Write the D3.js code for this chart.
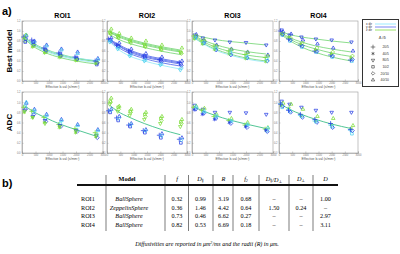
<!DOCTYPE html>
<html>
<head>
<meta charset="utf-8">
<script src="https://cdn.jsdelivr.net/npm/d3@7"></script>
<style>
  body { margin: 0; background: #fff; }
  svg { display: block; font-family: "Liberation Sans", Arial, sans-serif; }
  .serif { font-family: "Liberation Serif", "DejaVu Serif", serif; }
</style>
</head>
<body>
<div class="chart"></div>
<script>
var svgWidth = 400;
var svgHeight = 254;

// ---- data ----
var rois = ["ROI1", "ROI2", "ROI3", "ROI4"];
var rowNames = ["Best model", "ADC"];
var bVals = [100, 400, 850, 1400, 2000, 2750];
var protoShift = [-40, -20, 0, 20, 40, 60];
var xTicks = [0, 500, 1000, 1500, 2000, 2500, 3000];
var yTicks = [0, 0.2, 0.4, 0.6, 0.8, 1, 1.2];
var dirNames = ["x dir", "y dir", "z dir"];
var protocols = ["20/5", "40/5", "80/5", "10/2", "20/10", "40/10"];

// fitted curves: [direction, values at bVals]
var roi1BestFits = [
  [2, [0.87, 0.76, 0.64, 0.54, 0.46, 0.40]],
  [2, [0.86, 0.74, 0.62, 0.52, 0.45, 0.39]],
  [0, [0.85, 0.72, 0.60, 0.50, 0.43, 0.37]],
  [2, [0.84, 0.70, 0.57, 0.47, 0.40, 0.34]],
  [0, [0.86, 0.75, 0.63, 0.53, 0.46, 0.41]]
];
var roi2BestFits = [
  [2, [1.00, 0.93, 0.84, 0.76, 0.69, 0.62]],
  [2, [0.98, 0.91, 0.82, 0.74, 0.67, 0.60]],
  [2, [0.97, 0.89, 0.80, 0.72, 0.65, 0.58]],
  [2, [0.93, 0.84, 0.75, 0.67, 0.60, 0.53]],
  [1, [0.84, 0.74, 0.62, 0.52, 0.45, 0.38]],
  [1, [0.83, 0.72, 0.60, 0.50, 0.43, 0.36]],
  [1, [0.82, 0.71, 0.58, 0.48, 0.41, 0.34]],
  [1, [0.80, 0.68, 0.55, 0.45, 0.37, 0.30]],
  [0, [0.78, 0.64, 0.50, 0.40, 0.32, 0.24]]
];
var roi3BestFits = [
  [2, [0.92, 0.88, 0.83, 0.79, 0.76, 0.72]],
  [2, [0.90, 0.82, 0.73, 0.65, 0.59, 0.54]],
  [2, [0.88, 0.79, 0.68, 0.59, 0.52, 0.47]],
  [2, [0.86, 0.76, 0.64, 0.54, 0.46, 0.40]],
  [0, [0.85, 0.75, 0.62, 0.52, 0.44, 0.38]]
];
var roi4BestFits = [
  [2, [0.98, 0.93, 0.88, 0.84, 0.80, 0.76]],
  [2, [0.96, 0.87, 0.78, 0.70, 0.64, 0.58]],
  [2, [0.94, 0.84, 0.73, 0.64, 0.56, 0.49]],
  [2, [0.92, 0.81, 0.68, 0.57, 0.48, 0.40]]
];
var adcFits = [
  [0.93, 0.82, 0.70, 0.57, 0.46, 0.33],
  [0.94, 0.82, 0.70, 0.58, 0.47, 0.36],
  [0.90, 0.83, 0.74, 0.65, 0.57, 0.48],
  [0.95, 0.86, 0.76, 0.66, 0.57, 0.48]
];

// measured points: [direction, protocol, values at bVals]
var roi1BestPts = [
  [1, 5, [0.90, 0.80, 0.72, 0.64, 0.58, 0.45]],
  [0, 5, [0.92, 0.78, 0.70, 0.62, 0.55, 0.43]],
  [0, 2, [0.85, 0.74, 0.62, 0.52, 0.45, 0.38]],
  [2, 3, [0.80, 0.72, 0.60, 0.50, 0.44, 0.36]],
  [1, 3, [0.78, 0.78, 0.63, 0.55, 0.47, 0.33]],
  [2, 4, [0.92, 0.70, 0.58, 0.49, 0.42, 0.37]],
  [1, 4, [0.84, 0.73, 0.61, 0.51, 0.44, 0.36]],
  [1, 0, [0.88, 0.82, 0.66, 0.56, 0.48, 0.40]],
  [2, 1, [0.86, 0.68, 0.56, 0.47, 0.41, 0.35]]
];
var roi2BestPts = [
  [2, 5, [1.04, 0.95, 0.86, 0.80, 0.72, 0.66]],
  [2, 2, [0.98, 0.90, 0.80, 0.73, 0.66, 0.58]],
  [2, 4, [0.94, 0.86, 0.76, 0.68, 0.62, 0.55]],
  [2, 3, [0.96, 0.88, 0.79, 0.70, 0.64, 0.57]],
  [1, 5, [0.86, 0.76, 0.64, 0.55, 0.48, 0.40]],
  [1, 3, [0.82, 0.70, 0.58, 0.49, 0.42, 0.34]],
  [1, 0, [0.84, 0.72, 0.60, 0.50, 0.43, 0.37]],
  [1, 4, [0.80, 0.69, 0.56, 0.46, 0.39, 0.31]],
  [0, 4, [0.80, 0.66, 0.52, 0.42, 0.34, 0.26]],
  [0, 2, [0.78, 0.64, 0.50, 0.40, 0.32, 0.22]]
];
var roi3BestPts = [
  [1, 2, [0.92, 0.86, 0.82, 0.78, 0.77, 0.72]],
  [1, 5, [0.93, 0.80, 0.72, 0.64, 0.58, 0.52]],
  [2, 5, [0.90, 0.82, 0.70, 0.63, 0.57, 0.50]],
  [0, 3, [0.86, 0.75, 0.66, 0.58, 0.50, 0.45]],
  [1, 4, [0.88, 0.76, 0.62, 0.52, 0.46, 0.40]],
  [2, 0, [0.90, 0.80, 0.70, 0.60, 0.53, 0.47]],
  [2, 1, [0.84, 0.74, 0.63, 0.54, 0.45, 0.39]],
  [0, 4, [0.87, 0.77, 0.65, 0.55, 0.47, 0.41]]
];
var roi4BestPts = [
  [1, 2, [1.02, 0.92, 0.88, 0.84, 0.82, 0.78]],
  [1, 5, [0.98, 0.94, 0.82, 0.74, 0.66, 0.60]],
  [2, 4, [0.95, 0.86, 0.76, 0.66, 0.58, 0.50]],
  [0, 3, [0.92, 0.80, 0.68, 0.58, 0.48, 0.40]],
  [1, 0, [1.00, 0.84, 0.72, 0.60, 0.52, 0.42]],
  [2, 1, [0.94, 0.88, 0.74, 0.62, 0.54, 0.46]],
  [1, 4, [0.93, 0.82, 0.70, 0.59, 0.50, 0.43]]
];
var roi1AdcPts = [
  [1, 5, [0.98, 0.86, 0.76, 0.66, 0.56, 0.46]],
  [0, 5, [1.00, 0.84, 0.74, 0.64, 0.54, 0.44]],
  [0, 3, [0.92, 0.80, 0.68, 0.58, 0.46, 0.36]],
  [1, 4, [0.86, 0.76, 0.62, 0.52, 0.42, 0.30]],
  [2, 0, [0.90, 0.82, 0.70, 0.56, 0.48, 0.40]],
  [1, 2, [0.84, 0.72, 0.64, 0.54, 0.44, 0.34]],
  [2, 2, [0.82, 0.70, 0.58, 0.52, 0.43, 0.35]],
  [2, 1, [0.80, 0.70, 0.60, 0.50, 0.40, 0.32]]
];
var roi2AdcPts = [
  [2, 5, [1.08, 0.92, 0.86, 0.80, 0.72, 0.66]],
  [2, 4, [1.00, 0.86, 0.80, 0.72, 0.64, 0.58]],
  [2, 2, [0.96, 0.82, 0.74, 0.66, 0.58, 0.52]],
  [2, 3, [1.02, 0.90, 0.82, 0.76, 0.68, 0.61]],
  [1, 5, [0.86, 0.72, 0.58, 0.46, 0.38, 0.30]],
  [1, 3, [0.80, 0.64, 0.52, 0.40, 0.30, 0.20]],
  [1, 0, [0.83, 0.69, 0.55, 0.44, 0.35, 0.27]],
  [0, 4, [0.84, 0.68, 0.56, 0.44, 0.34, 0.26]]
];
var roi3AdcPts = [
  [1, 2, [0.94, 0.86, 0.80, 0.80, 0.79, 0.76]],
  [2, 5, [0.92, 0.88, 0.76, 0.68, 0.60, 0.50]],
  [0, 3, [0.88, 0.80, 0.70, 0.62, 0.54, 0.44]],
  [1, 4, [0.86, 0.78, 0.68, 0.58, 0.50, 0.42]],
  [2, 0, [0.90, 0.84, 0.72, 0.64, 0.55, 0.47]],
  [0, 5, [0.91, 0.82, 0.73, 0.63, 0.56, 0.49]],
  [1, 1, [0.85, 0.76, 0.66, 0.60, 0.52, 0.45]]
];
var roi4AdcPts = [
  [1, 2, [1.02, 0.96, 0.90, 0.84, 0.80, 0.80]],
  [2, 5, [0.98, 0.96, 0.86, 0.72, 0.68, 0.54]],
  [0, 3, [0.90, 0.82, 0.72, 0.62, 0.52, 0.38]],
  [1, 4, [0.92, 0.80, 0.70, 0.60, 0.50, 0.44]],
  [2, 1, [0.94, 0.88, 0.74, 0.64, 0.56, 0.48]],
  [0, 0, [0.97, 0.85, 0.74, 0.63, 0.55, 0.45]],
  [1, 0, [0.96, 0.84, 0.76, 0.66, 0.58, 0.46]]
];

// table
var tableHeader = ["Model", "f", "D∥", "R", "f2", "D∥/D⊥", "D⊥", "D"];
var tableRois = ["ROI1", "ROI2", "ROI3", "ROI4"];
var tableModels = ["BallSphere", "ZeppelinSphere", "BallSphere", "BallSphere"];
var tableF = ["0.32", "0.36", "0.73", "0.82"];
var tableDpar = ["0.99", "1.46", "0.46", "0.53"];
var tableR = ["3.19", "4.42", "6.62", "6.69"];
var tableF2 = ["0.68", "0.64", "0.27", "0.18"];
var tableRatio = ["–", "1.50", "–", "–"];
var tableDperp = ["–", "0.24", "–", "–"];
var tableD = ["1.00", "–", "2.97", "3.11"];

// ---- styles ----
var dirColor = ["#4fd2f0", "#2a40e4", "#7cdc38"];
var fitColor = ["#8fe6f5", "#4a5fe8", "#6ed46e"];
var legendLine = ["#8fe8ff", "#6a7cf2", "#8ee05a"];
var adcLineColor = "#3fbf8a";
var symbolTypes = [d3.symbolPlus, d3.symbolAsterisk, d3.symbolTriangle2, d3.symbolSquare2, d3.symbolDiamond2, d3.symbolTriangle2];
var symbolRotate = [0, 0, 180, 0, 0, 0];

var colX = [[22, 103], [107, 187], [192, 273], [279, 358]];
var rowY = [[21, 81], [92, 153]];

var svg = d3.select(".chart")
  .append("svg")
  .attr("width", svgWidth)
  .attr("height", svgHeight);

svg.append("text").attr("x", 2).attr("y", 15)
  .attr("font-size", 11).attr("font-weight", "bold").text("a)");
svg.append("text").attr("x", 2).attr("y", 187)
  .attr("font-size", 11).attr("font-weight", "bold").text("b)");

rois.forEach(function(r, i) {
  svg.append("text")
    .attr("x", (colX[i][0] + colX[i][1]) / 2).attr("y", 18)
    .attr("text-anchor", "middle").attr("font-size", 7).attr("font-weight", "bold")
    .text(r);
});

rowNames.forEach(function(r, i) {
  var cy = (rowY[i][0] + rowY[i][1]) / 2;
  svg.append("text")
    .attr("transform", "translate(12," + cy + ") rotate(-90)")
    .attr("text-anchor", "middle").attr("font-size", 8).attr("font-weight", "bold")
    .text(r);
});

var panels = [
  { c: 0, r: 0, fits: roi1BestFits, pts: roi1BestPts },
  { c: 1, r: 0, fits: roi2BestFits, pts: roi2BestPts },
  { c: 2, r: 0, fits: roi3BestFits, pts: roi3BestPts },
  { c: 3, r: 0, fits: roi4BestFits, pts: roi4BestPts },
  { c: 0, r: 1, fits: [[2, adcFits[0]]], pts: roi1AdcPts, adc: true },
  { c: 1, r: 1, fits: [[2, adcFits[1]]], pts: roi2AdcPts, adc: true },
  { c: 2, r: 1, fits: [[2, adcFits[2]]], pts: roi3AdcPts, adc: true },
  { c: 3, r: 1, fits: [[2, adcFits[3]]], pts: roi4AdcPts, adc: true }
];

panels.forEach(function(p) {
  var x = d3.scaleLinear().domain([0, 3000]).range(colX[p.c]);
  var y = d3.scaleLinear().domain([0, 1.2]).range([rowY[p.r][1], rowY[p.r][0]]);
  var g = svg.append("g");

  g.append("rect")
    .attr("x", colX[p.c][0]).attr("y", rowY[p.r][0])
    .attr("width", colX[p.c][1] - colX[p.c][0]).attr("height", rowY[p.r][1] - rowY[p.r][0])
    .attr("fill", "#fff").attr("stroke", "#9a9a9a").attr("stroke-width", 0.6);

  var xa = g.append("g").attr("transform", "translate(0," + rowY[p.r][1] + ")")
    .call(d3.axisBottom(x).tickValues(xTicks).tickSize(-1.5).tickPadding(1.5).tickFormat(d3.format("d")));
  var ya = g.append("g").attr("transform", "translate(" + colX[p.c][0] + ",0)")
    .call(d3.axisLeft(y).tickValues(yTicks).tickSize(-1.5).tickPadding(1.5));
  [xa, ya].forEach(function(a) {
    a.select(".domain").attr("stroke", "#9a9a9a").attr("stroke-width", 0.6);
    a.selectAll(".tick line").attr("stroke", "#9a9a9a").attr("stroke-width", 0.5);
    a.selectAll(".tick text").attr("font-size", 2.6).attr("fill", "#777");
  });

  g.append("text")
    .attr("x", (colX[p.c][0] + colX[p.c][1]) / 2).attr("y", rowY[p.r][1] + 7)
    .attr("text-anchor", "middle").attr("font-size", 3.4).attr("fill", "#555")
    .text("Effective b-val (s/mm²)");

  var line = d3.line()
    .x(function(d, i) { return x(bVals[i]); })
    .y(function(d) { return y(d); })
    .curve(d3.curveMonotoneX);

  p.fits.forEach(function(f) {
    g.append("path").datum(f[1])
      .attr("d", line).attr("fill", "none")
      .attr("stroke", p.adc ? adcLineColor : fitColor[f[0]])
      .attr("stroke-width", p.adc ? 0.9 : 0.8);
  });

  p.pts.forEach(function(s) {
    var sym = d3.symbol().type(symbolTypes[s[1]]).size(9);
    g.selectAll(null).data(s[2]).enter().append("path")
      .attr("d", sym)
      .attr("transform", function(d, i) {
        return "translate(" + x(bVals[i] + protoShift[s[1]]) + "," + y(d) + ") rotate(" + symbolRotate[s[1]] + ")";
      })
      .attr("fill", "none")
      .attr("stroke", dirColor[s[0]])
      .attr("stroke-width", 0.75);
  });
});

// legend
var lg = svg.append("g");
lg.append("rect").attr("x", 362.5).attr("y", 19.5).attr("width", 36).attr("height", 67)
  .attr("fill", "#fff").attr("stroke", "#333").attr("stroke-width", 1);
dirNames.forEach(function(d, i) {
  var yy = 24 + i * 3;
  lg.append("text").attr("x", 366).attr("y", yy + 1).attr("font-size", 3.2).attr("fill", "#333").text(d);
  lg.append("line").attr("x1", 375).attr("x2", 396).attr("y1", yy).attr("y2", yy)
    .attr("stroke", legendLine[i]).attr("stroke-width", 0.9);
});
lg.append("text").attr("x", 380).attr("y", 39).attr("text-anchor", "middle")
  .attr("font-size", 4).attr("fill", "#333").text("Δ");
lg.append("text").attr("x", 384).attr("y", 39).attr("text-anchor", "middle")
  .attr("font-size", 4).attr("fill", "#333").text("/δ");
protocols.forEach(function(pr, i) {
  var yy = 47 + i * 6.6;
  lg.append("path")
    .attr("d", d3.symbol().type(symbolTypes[i]).size(8))
    .attr("transform", "translate(373," + yy + ") rotate(" + symbolRotate[i] + ")")
    .attr("fill", "none").attr("stroke", "#333").attr("stroke-width", 0.6);
  lg.append("text").attr("x", 389).attr("y", yy + 1.2).attr("text-anchor", "end")
    .attr("font-size", 3.4).attr("fill", "#333").text(pr);
});

// table
var tg = svg.append("g").attr("class", "serif");
var colCenters = [127, 177, 200.5, 223.5, 246, 274, 301, 325.5];
var vLines = [106, 165, 188.5, 213, 233, 259, 289, 313];
var rowYs = [201, 209.5, 218, 226.5];

vLines.forEach(function(v) {
  tg.append("line").attr("x1", v).attr("x2", v).attr("y1", 175).attr("y2", 231)
    .attr("stroke", "#222").attr("stroke-width", 0.6);
});
tg.append("line").attr("x1", 77).attr("x2", 338).attr("y1", 185).attr("y2", 185)
  .attr("stroke", "#111").attr("stroke-width", 1.8);

function headerText(t, cx) {
  var el = tg.append("text").attr("x", cx).attr("y", 181).attr("text-anchor", "middle")
    .attr("font-size", 6.2);
  if (t === "Model") { el.attr("font-weight", "bold").text(t); return; }
  el.attr("font-style", "italic");
  var parts = t.split("/");
  parts.forEach(function(pt, k) {
    if (k > 0) el.append("tspan").text("/");
    el.append("tspan").text(pt.charAt(0));
    if (pt.length > 1) el.append("tspan").attr("font-size", 4).attr("dy", 1.2).text(pt.slice(1));
    if (pt.length > 1) el.append("tspan").attr("dy", -1.2).text("");
  });
}
tableHeader.forEach(function(h, i) { headerText(h, colCenters[i]); });

var tableCols = [tableModels, tableF, tableDpar, tableR, tableF2, tableRatio, tableDperp, tableD];
tableRois.forEach(function(r, i) {
  tg.append("text").attr("x", 81).attr("y", rowYs[i]).attr("font-size", 6.2).text(r);
  tableCols.forEach(function(col, j) {
    tg.append("text").attr("x", colCenters[j] + (j === 0 ? 2 : 0)).attr("y", rowYs[i])
      .attr("text-anchor", "middle").attr("font-size", 6.2)
      .attr("font-style", j === 0 ? "italic" : "normal")
      .text(col[i]);
  });
});

var cap = tg.append("text").attr("x", 207).attr("y", 246).attr("text-anchor", "middle")
  .attr("font-size", 6).attr("font-style", "italic");
cap.append("tspan").text("Diffusivities are reported in μm");
cap.append("tspan").attr("font-size", 4).attr("dy", -2).text("2");
cap.append("tspan").attr("dy", 2).text("/ms and the radii (R) in μm.");
</script>
</body>
</html>
